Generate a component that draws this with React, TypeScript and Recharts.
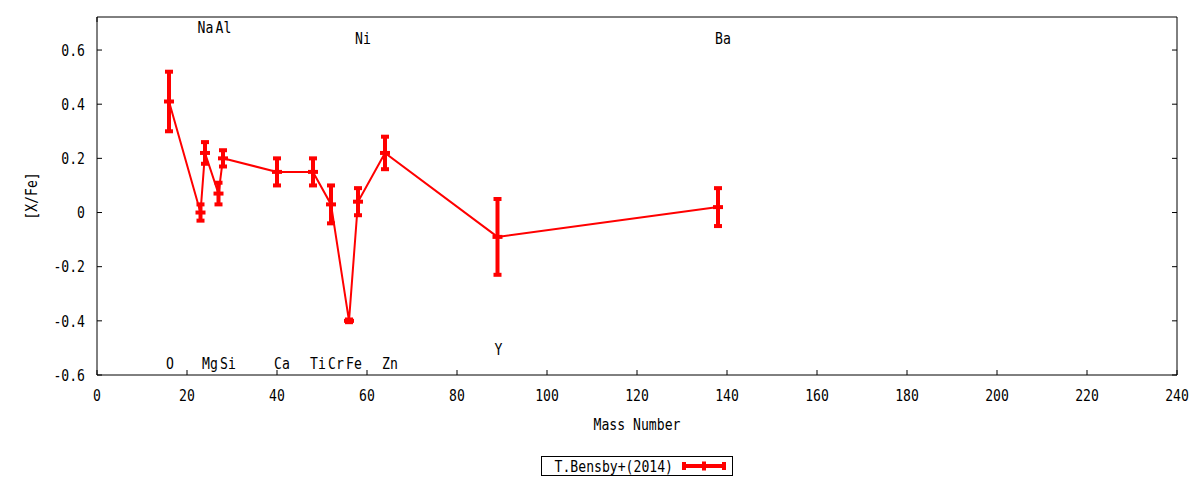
import React from 'react';
import {
  ComposedChart,
  Line,
  Scatter,
  XAxis,
  YAxis,
  ErrorBar,
  Legend,
} from 'recharts';

// ---- data ----
const elements = ['O', 'Na', 'Mg', 'Al', 'Si', 'Ca', 'Ti', 'Cr', 'Fe', 'Ni', 'Zn', 'Y', 'Ba'];
const massNumbers = [16, 23, 24, 27, 28, 40, 48, 52, 56, 58, 64, 89, 138];
const xfeValues = [0.41, 0.0, 0.22, 0.07, 0.2, 0.15, 0.15, 0.03, -0.4, 0.04, 0.22, -0.09, 0.02];
const xfeErrors = [0.11, 0.03, 0.04, 0.04, 0.03, 0.05, 0.05, 0.07, 0.005, 0.05, 0.06, 0.14, 0.07];
const labelYValues = [-0.557, 0.683, -0.557, 0.683, -0.557, -0.557, -0.557, -0.557, -0.557, 0.645, -0.557, -0.505, 0.645];

const xTicks = [0, 20, 40, 60, 80, 100, 120, 140, 160, 180, 200, 220, 240];
const yTicks = [-0.6, -0.4, -0.2, 0, 0.2, 0.4, 0.6];
const xDomain = [0, 240];
const yDomain = [-0.6, 0.722];
const seriesName = 'T.Bensby+(2014)';
const xLabel = 'Mass Number';
const yLabel = '[X/Fe]';

const rows = massNumbers.map((m, i) => ({ mass: m, xfe: xfeValues[i], err: xfeErrors[i], name: elements[i] }));
const labelRows = massNumbers.map((m, i) => ({ mass: m, ly: labelYValues[i], name: elements[i] }));

// ---- styles ----
const RED = '#ff0000';
const FONT = "'DejaVu Sans Mono', 'Liberation Mono', monospace";
const TICK_LEN = 5;

function CondText({ x, y, anchor = 'middle', rotate = 0, children }: any) {
  return (
    <text
      transform={`translate(${x},${y}) rotate(${rotate}) scale(0.82,1)`}
      textAnchor={anchor}
      dy="0.36em"
      fontFamily={FONT}
      fontSize={16}
      fill="#000"
    >
      {children}
    </text>
  );
}

const LeftTick = ({ x, y, payload }: any) => (
  <g>
    <line x1={x} y1={y} x2={x + TICK_LEN} y2={y} stroke="#000" strokeWidth={1} />
    <CondText x={x - 12} y={y} anchor="end">{String(payload.value)}</CondText>
  </g>
);
const RightTick = ({ x, y }: any) => (
  <line x1={x} y1={y} x2={x - TICK_LEN} y2={y} stroke="#000" strokeWidth={1} />
);
const BottomTick = ({ x, y, payload }: any) => (
  <g>
    <line x1={x} y1={y} x2={x} y2={y - TICK_LEN} stroke="#000" strokeWidth={1} />
    <CondText x={x} y={y + 20}>{String(payload.value)}</CondText>
  </g>
);
const TopTick = ({ x, y }: any) => (
  <line x1={x} y1={y} x2={x} y2={y + TICK_LEN} stroke="#000" strokeWidth={1} />
);

const PointDash = (props: any) => {
  const { cx, cy, index } = props;
  if (cx == null || cy == null) return <g key={index} />;
  return <line key={index} x1={cx - 5} x2={cx + 5} y1={cy} y2={cy} stroke={RED} strokeWidth={4} />;
};

const ElementLabel = (props: any) => {
  const { cx, cy, payload } = props;
  return <CondText x={cx - 3} y={cy} anchor="start">{payload.name}</CondText>;
};

const LegendBox = () => (
  <div style={{ height: 45, display: 'flex', justifyContent: 'center' }}>
    <svg width={192} height={20} style={{ marginTop: 21, display: 'block', overflow: 'visible' }}>
      <rect x={0.5} y={0.5} width={191} height={19} fill="#fff" stroke="#000" strokeWidth={1} />
      <CondText x={132} y={10} anchor="end">{seriesName}</CondText>
      <line x1={141} x2={185} y1={10} y2={10} stroke={RED} strokeWidth={4} />
      <line x1={143} x2={143} y1={6} y2={14} stroke={RED} strokeWidth={4} />
      <line x1={183} x2={183} y1={6} y2={14} stroke={RED} strokeWidth={4} />
      <line x1={163} x2={163} y1={5.5} y2={14.5} stroke={RED} strokeWidth={4} />
    </svg>
  </div>
);

export default function App() {
  return (
    <ComposedChart
      width={1190}
      height={472}
      data={rows}
      margin={{ top: 8, right: 20, left: 0, bottom: 0 }}
    >
      <XAxis
        dataKey="mass"
        type="number"
        domain={xDomain}
        ticks={xTicks}
        interval={0}
        allowDataOverflow
        height={60}
        tickSize={0}
        tickMargin={0}
        tickLine={false}
        axisLine={{ stroke: '#000', strokeWidth: 1 }}
        tick={<BottomTick />}
        label={{
          content: (p: any) => {
            const vb = p.viewBox || {};
            return <CondText x={vb.x + vb.width / 2} y={vb.y + 49}>{xLabel}</CondText>;
          },
        }}
      />
      <XAxis
        xAxisId="top"
        orientation="top"
        type="number"
        domain={xDomain}
        ticks={xTicks}
        interval={0}
        allowDataOverflow
        height={1}
        tickSize={0}
        tickMargin={0}
        tickLine={false}
        axisLine={{ stroke: '#000', strokeWidth: 1 }}
        tick={<TopTick />}
      />
      <YAxis
        type="number"
        domain={yDomain}
        ticks={yTicks}
        interval={0}
        allowDataOverflow
        width={89}
        tickSize={0}
        tickMargin={0}
        tickLine={false}
        axisLine={{ stroke: '#000', strokeWidth: 1 }}
        tick={<LeftTick />}
        label={{
          content: (p: any) => {
            const vb = p.viewBox || {};
            return <CondText x={23} y={vb.y + vb.height / 2} rotate={-90}>{yLabel}</CondText>;
          },
        }}
      />
      <YAxis
        yAxisId="right"
        orientation="right"
        type="number"
        domain={yDomain}
        ticks={yTicks}
        interval={0}
        allowDataOverflow
        width={1}
        tickSize={0}
        tickMargin={0}
        tickLine={false}
        axisLine={{ stroke: '#000', strokeWidth: 1 }}
        tick={<RightTick />}
      />
      <Legend
        verticalAlign="bottom"
        content={<LegendBox />}
        wrapperStyle={{ left: 89, width: 1080 }}
      />
      <Line
        type="linear"
        dataKey="xfe"
        name={seriesName}
        stroke={RED}
        strokeWidth={2}
        dot={PointDash}
        activeDot={false}
        isAnimationActive={false}
      >
        <ErrorBar dataKey="err" direction="y" width={4} stroke={RED} strokeWidth={4} isAnimationActive={false} />
      </Line>
      <Scatter
        data={labelRows}
        dataKey="ly"
        shape={ElementLabel}
        legendType="none"
        isAnimationActive={false}
      />
    </ComposedChart>
  );
}
